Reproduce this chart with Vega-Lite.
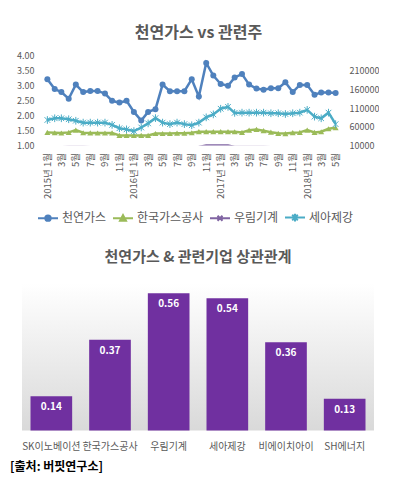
{
  "$schema": "https://vega.github.io/schema/vega-lite/v6.json",
  "background": "white",
  "padding": {"left": 10, "top": 24.5, "right": 0, "bottom": 0},
  "config": {"font": "Noto Sans CJK KR", "view": {"stroke": null}},
  "title": {"text": "[출처: 버핏연구소]", "orient": "bottom", "anchor": "start", "fontSize": 12, "fontWeight": "bold", "color": "#000000", "offset": 11, "dx": -6.5},
  "spacing": 24,
  "resolve": {"scale": {"color": "independent"}, "legend": {"color": "independent"}},
  "datasets": {
    "ts": [
      {"m": "2015-01", "천연가스": 3.21, "한국가스공사": 45000, "우림기계": 5600, "세아제강": 78000},
      {"m": "2015-02", "천연가스": 2.88, "한국가스공사": 44000, "우림기계": 5400, "세아제강": 82600},
      {"m": "2015-03", "천연가스": 2.78, "한국가스공사": 43300, "우림기계": 5300, "세아제강": 82600},
      {"m": "2015-04", "천연가스": 2.56, "한국가스공사": 45000, "우림기계": 5700, "세아제강": 80000},
      {"m": "2015-05", "천연가스": 3.03, "한국가스공사": 51000, "우림기계": 6100, "세아제강": 76000},
      {"m": "2015-06", "천연가스": 2.78, "한국가스공사": 44000, "우림기계": 5800, "세아제강": 71000},
      {"m": "2015-07", "천연가스": 2.82, "한국가스공사": 43600, "우림기계": 5500, "세아제강": 71000},
      {"m": "2015-08", "천연가스": 2.82, "한국가스공사": 43300, "우림기계": 5200, "세아제강": 71000},
      {"m": "2015-09", "천연가스": 2.73, "한국가스공사": 43300, "우림기계": 5000, "세아제강": 71000},
      {"m": "2015-10", "천연가스": 2.49, "한국가스공사": 43600, "우림기계": 5100, "세아제강": 65000},
      {"m": "2015-11", "천연가스": 2.43, "한국가스공사": 37000, "우림기계": 4900, "세아제강": 56000},
      {"m": "2015-12", "천연가스": 2.49, "한국가스공사": 37000, "우림기계": 4800, "세아제강": 53000},
      {"m": "2016-01", "천연가스": 2.12, "한국가스공사": 37000, "우림기계": 4600, "세아제강": 48500},
      {"m": "2016-02", "천연가스": 1.83, "한국가스공사": 37000, "우림기계": 4500, "세아제강": 58000},
      {"m": "2016-03", "천연가스": 2.12, "한국가스공사": 37000, "우림기계": 4700, "세아제강": 69000},
      {"m": "2016-04", "천연가스": 2.21, "한국가스공사": 42000, "우림기계": 4900, "세아제강": 83000},
      {"m": "2016-05", "천연가스": 3.03, "한국가스공사": 42000, "우림기계": 5000, "세아제강": 71000},
      {"m": "2016-06", "천연가스": 2.81, "한국가스공사": 42000, "우림기계": 5200, "세아제강": 67000},
      {"m": "2016-07", "천연가스": 2.81, "한국가스공사": 43000, "우림기계": 5300, "세아제강": 71000},
      {"m": "2016-08", "천연가스": 2.81, "한국가스공사": 43000, "우림기계": 5400, "세아제강": 67000},
      {"m": "2016-09", "천연가스": 3.21, "한국가스공사": 44000, "우림기계": 5600, "세아제강": 64000},
      {"m": "2016-10", "천연가스": 2.63, "한국가스공사": 47000, "우림기계": 5900, "세아제강": 71000},
      {"m": "2016-11", "천연가스": 3.75, "한국가스공사": 47000, "우림기계": 9800, "세아제강": 85000},
      {"m": "2016-12", "천연가스": 3.33, "한국가스공사": 47000, "우림기계": 9900, "세아제강": 93000},
      {"m": "2017-01", "천연가스": 3.05, "한국가스공사": 47000, "우림기계": 9900, "세아제강": 108000},
      {"m": "2017-02", "천연가스": 2.99, "한국가스공사": 47000, "우림기계": 9800, "세아제강": 113000},
      {"m": "2017-03", "천연가스": 3.27, "한국가스공사": 46600, "우림기계": 6200, "세아제강": 97000},
      {"m": "2017-04", "천연가스": 3.38, "한국가스공사": 45000, "우림기계": 6000, "세아제강": 97600},
      {"m": "2017-05", "천연가스": 3.03, "한국가스공사": 51000, "우림기계": 5900, "세아제강": 97600},
      {"m": "2017-06", "천연가스": 2.90, "한국가스공사": 52800, "우림기계": 5800, "세아제강": 97600},
      {"m": "2017-07", "천연가스": 2.86, "한국가스공사": 49500, "우림기계": 5700, "세아제강": 97600},
      {"m": "2017-08", "천연가스": 2.91, "한국가스공사": 45600, "우림기계": 5600, "세아제강": 96000},
      {"m": "2017-09", "천연가스": 2.91, "한국가스공사": 42500, "우림기계": 5500, "세아제강": 96000},
      {"m": "2017-10", "천연가스": 3.11, "한국가스공사": 41700, "우림기계": 5500, "세아제강": 94000},
      {"m": "2017-11", "천연가스": 2.78, "한국가스공사": 44200, "우림기계": 5400, "세아제강": 96000},
      {"m": "2017-12", "천연가스": 3.02, "한국가스공사": 45000, "우림기계": 5400, "세아제강": 97600},
      {"m": "2018-01", "천연가스": 3.02, "한국가스공사": 51000, "우림기계": 5600, "세아제강": 105000},
      {"m": "2018-02", "천연가스": 2.69, "한국가스공사": 45000, "우림기계": 5500, "세아제강": 87000},
      {"m": "2018-03", "천연가스": 2.77, "한국가스공사": 46600, "우림기계": 5400, "세아제강": 82600},
      {"m": "2018-04", "천연가스": 2.77, "한국가스공사": 54600, "우림기계": 5500, "세아제강": 97600},
      {"m": "2018-05", "천연가스": 2.75, "한국가스공사": 57300, "우림기계": 5600, "세아제강": 67000}
    ],
    "corr": [
      {"company": "SK이노베이션", "r": 0.14},
      {"company": "한국가스공사", "r": 0.37},
      {"company": "우림기계", "r": 0.56},
      {"company": "세아제강", "r": 0.54},
      {"company": "비에이치아이", "r": 0.36},
      {"company": "SH에너지", "r": 0.13}
    ]
  },
  "vconcat": [
    {
      "width": 339,
      "height": 90,
      "title": {"text": "천연가스 vs 관련주", "fontSize": 16, "fontWeight": "bold", "color": "#595959", "offset": 11, "dx": 7},
      "data": {"name": "ts"},
      "transform": [{"fold": ["천연가스", "한국가스공사", "우림기계", "세아제강"], "as": ["s", "v"]}],
      "encoding": {
        "x": {
          "field": "m", "type": "temporal",
          "scale": {"type": "utc", "domain": [{"year": 2014, "month": 9, "date": 16, "utc": true}, {"year": 2018, "month": 8, "date": 16, "utc": true}], "nice": false},
          "axis": {
            "title": null, "labelAngle": -90, "labelFontSize": 9.5, "labelColor": "#595959",
            "ticks": false, "domain": false, "grid": false, "labelPadding": 7, "labelOverlap": false, "labelFlush": false,
            "values": [
              {"year": 2015, "month": 1, "date": 1, "utc": true}, {"year": 2015, "month": 3, "date": 1, "utc": true}, {"year": 2015, "month": 5, "date": 1, "utc": true},
              {"year": 2015, "month": 7, "date": 1, "utc": true}, {"year": 2015, "month": 9, "date": 1, "utc": true}, {"year": 2015, "month": 11, "date": 1, "utc": true},
              {"year": 2016, "month": 1, "date": 1, "utc": true}, {"year": 2016, "month": 3, "date": 1, "utc": true}, {"year": 2016, "month": 5, "date": 1, "utc": true},
              {"year": 2016, "month": 7, "date": 1, "utc": true}, {"year": 2016, "month": 9, "date": 1, "utc": true}, {"year": 2016, "month": 11, "date": 1, "utc": true},
              {"year": 2017, "month": 1, "date": 1, "utc": true}, {"year": 2017, "month": 3, "date": 1, "utc": true}, {"year": 2017, "month": 5, "date": 1, "utc": true},
              {"year": 2017, "month": 7, "date": 1, "utc": true}, {"year": 2017, "month": 9, "date": 1, "utc": true}, {"year": 2017, "month": 11, "date": 1, "utc": true},
              {"year": 2018, "month": 1, "date": 1, "utc": true}, {"year": 2018, "month": 3, "date": 1, "utc": true}, {"year": 2018, "month": 5, "date": 1, "utc": true}
            ],
            "labelExpr": "utcmonth(datum.value)==0 ? utcyear(datum.value)+'년 1월' : (utcmonth(datum.value)+1)+'월'"
          }
        }
      },
      "layer": [
        {
          "transform": [{"filter": "datum.s == '천연가스'"}],
          "encoding": {
            "y": {
              "field": "v", "type": "quantitative",
              "scale": {"domain": [1, 4], "nice": false, "zero": false},
              "axis": {"orient": "left", "title": null, "values": [1, 1.5, 2, 2.5, 3, 3.5, 4], "format": ".2f", "offset": -23, "labelPadding": 11, "domain": false, "ticks": false, "grid": false, "labelFontSize": 9, "labelColor": "#595959"}
            }
          },
          "layer": [
            {
              "data": {"values": [{"base": 1}]},
              "mark": {"type": "rule", "color": "#d9d9d9", "strokeWidth": 1},
              "encoding": {
                "x": {"datum": {"year": 2014, "month": 12, "date": 22, "utc": true}, "type": "temporal"},
                "x2": {"datum": {"year": 2018, "month": 5, "date": 20, "utc": true}},
                "y": {"field": "base", "type": "quantitative"}
              }
            },
            {
              "mark": {"type": "line", "strokeWidth": 2.5},
              "encoding": {
                "color": {
                  "field": "s", "type": "nominal",
                  "scale": {"domain": ["천연가스", "한국가스공사", "우림기계", "세아제강"], "range": ["#4F81BD", "#9BBB59", "#8064A2", "#4BACC6"]},
                  "legend": {
                    "title": null, "orient": "none", "legendX": 15, "legendY": 151, "direction": "horizontal",
                    "columnPadding": 2, "labelOffset": 3, "symbolSize": 400, "labelFontSize": 12, "labelColor": "#595959", "labelLimit": 200,
                    "encode": {"symbols": {"update": {
                      "shape": {"signal": "datum.value=='천연가스' ? 'M-1,0H1M-0.27,0A0.27,0.27,0,1,0,0.27,0A0.27,0.27,0,1,0,-0.27,0Z' : datum.value=='한국가스공사' ? 'M-1,0H1M-0.3,0.26L0.3,0.26L0,-0.3Z' : datum.value=='우림기계' ? 'M-1,0H1M-0.25,-0.25L0.25,0.25M-0.25,0.25L0.25,-0.25' : 'M-1,0H1M-0.28,-0.28L0.28,0.28M-0.28,0.28L0.28,-0.28M0,-0.38V0.38'"},
                      "fill": {"signal": "datum.value=='천연가스' ? '#4F81BD' : datum.value=='한국가스공사' ? '#9BBB59' : datum.value=='우림기계' ? '#8064A2' : '#4BACC6'"},
                      "stroke": {"signal": "datum.value=='천연가스' ? '#4F81BD' : datum.value=='한국가스공사' ? '#9BBB59' : datum.value=='우림기계' ? '#8064A2' : '#4BACC6'"},
                      "strokeWidth": {"value": 2}
                    }}}
                  }
                }
              }
            },
            {
              "mark": {"type": "point", "shape": "circle", "filled": true, "size": 36, "color": "#4F81BD", "opacity": 1}
            }
          ]
        },
        {
          "transform": [{"filter": "datum.s != '천연가스'"}],
          "encoding": {
            "y": {
              "field": "v", "type": "quantitative",
              "scale": {"domain": [10000, 250000], "nice": false, "zero": false},
              "axis": {"orient": "right", "title": null, "values": [10000, 60000, 110000, 160000, 210000], "format": "d", "offset": -21, "labelPadding": 9, "domain": false, "ticks": false, "grid": false, "labelFontSize": 9, "labelColor": "#595959"}
            }
          },
          "layer": [
            {
              "mark": {"type": "line", "strokeWidth": 2.5, "clip": true},
              "encoding": {
                "color": {
                  "field": "s", "type": "nominal",
                  "scale": {"domain": ["천연가스", "한국가스공사", "우림기계", "세아제강"], "range": ["#4F81BD", "#9BBB59", "#8064A2", "#4BACC6"]},
                  "legend": {
                    "title": null, "orient": "none", "legendX": 15, "legendY": 151, "direction": "horizontal",
                    "columnPadding": 2, "labelOffset": 3, "symbolSize": 400, "labelFontSize": 12, "labelColor": "#595959", "labelLimit": 200,
                    "encode": {"symbols": {"update": {
                      "shape": {"signal": "datum.value=='천연가스' ? 'M-1,0H1M-0.27,0A0.27,0.27,0,1,0,0.27,0A0.27,0.27,0,1,0,-0.27,0Z' : datum.value=='한국가스공사' ? 'M-1,0H1M-0.3,0.26L0.3,0.26L0,-0.3Z' : datum.value=='우림기계' ? 'M-1,0H1M-0.25,-0.25L0.25,0.25M-0.25,0.25L0.25,-0.25' : 'M-1,0H1M-0.28,-0.28L0.28,0.28M-0.28,0.28L0.28,-0.28M0,-0.38V0.38'"},
                      "fill": {"signal": "datum.value=='천연가스' ? '#4F81BD' : datum.value=='한국가스공사' ? '#9BBB59' : datum.value=='우림기계' ? '#8064A2' : '#4BACC6'"},
                      "stroke": {"signal": "datum.value=='천연가스' ? '#4F81BD' : datum.value=='한국가스공사' ? '#9BBB59' : datum.value=='우림기계' ? '#8064A2' : '#4BACC6'"},
                      "strokeWidth": {"value": 2}
                    }}}
                  }
                }
              }
            },
            {
              "transform": [{"filter": "datum.s == '한국가스공사'"}],
              "mark": {"type": "point", "shape": "triangle-up", "filled": true, "size": 36, "color": "#9BBB59", "opacity": 1}
            },
            {
              "transform": [{"filter": "datum.s == '세아제강'"}],
              "mark": {"type": "point", "shape": "M-0.8,-0.8L0.8,0.8M-0.8,0.8L0.8,-0.8M0,-1.1V1.1", "filled": false, "size": 49, "color": "#4BACC6", "strokeWidth": 1, "opacity": 1}
            }
          ]
        }
      ],
      "resolve": {"scale": {"y": "independent"}, "axis": {"y": "independent"}}
    },
    {
      "width": 352,
      "height": 147,
      "title": {"text": "천연가스 & 관련기업 상관관계", "fontSize": 15, "fontWeight": "bold", "color": "#595959", "offset": 19},
      "data": {"name": "corr"},
      "view": {"stroke": null, "fill": {"gradient": "linear", "x1": 0, "y1": 0, "x2": 0, "y2": 1, "stops": [{"offset": 0, "color": "#ffffff"}, {"offset": 1, "color": "#d9d9d9"}]}},
      "encoding": {
        "x": {
          "field": "company", "type": "nominal", "sort": null,
          "scale": {"paddingInner": 0.29, "paddingOuter": 0.145},
          "axis": {"title": null, "labelAngle": 0, "ticks": false, "domain": false, "labelFontSize": 10, "labelColor": "#595959", "labelPadding": 10.5}
        },
        "y": {"field": "r", "type": "quantitative", "scale": {"domain": [0, 0.6], "nice": false}, "axis": null}
      },
      "layer": [
        {"mark": {"type": "bar", "color": "#7030A0"}},
        {"mark": {"type": "text", "color": "#ffffff", "fontWeight": "bold", "fontSize": 10, "baseline": "middle", "dy": 11}, "encoding": {"text": {"field": "r", "type": "quantitative", "format": ".2f"}}}
      ]
    }
  ]
}
